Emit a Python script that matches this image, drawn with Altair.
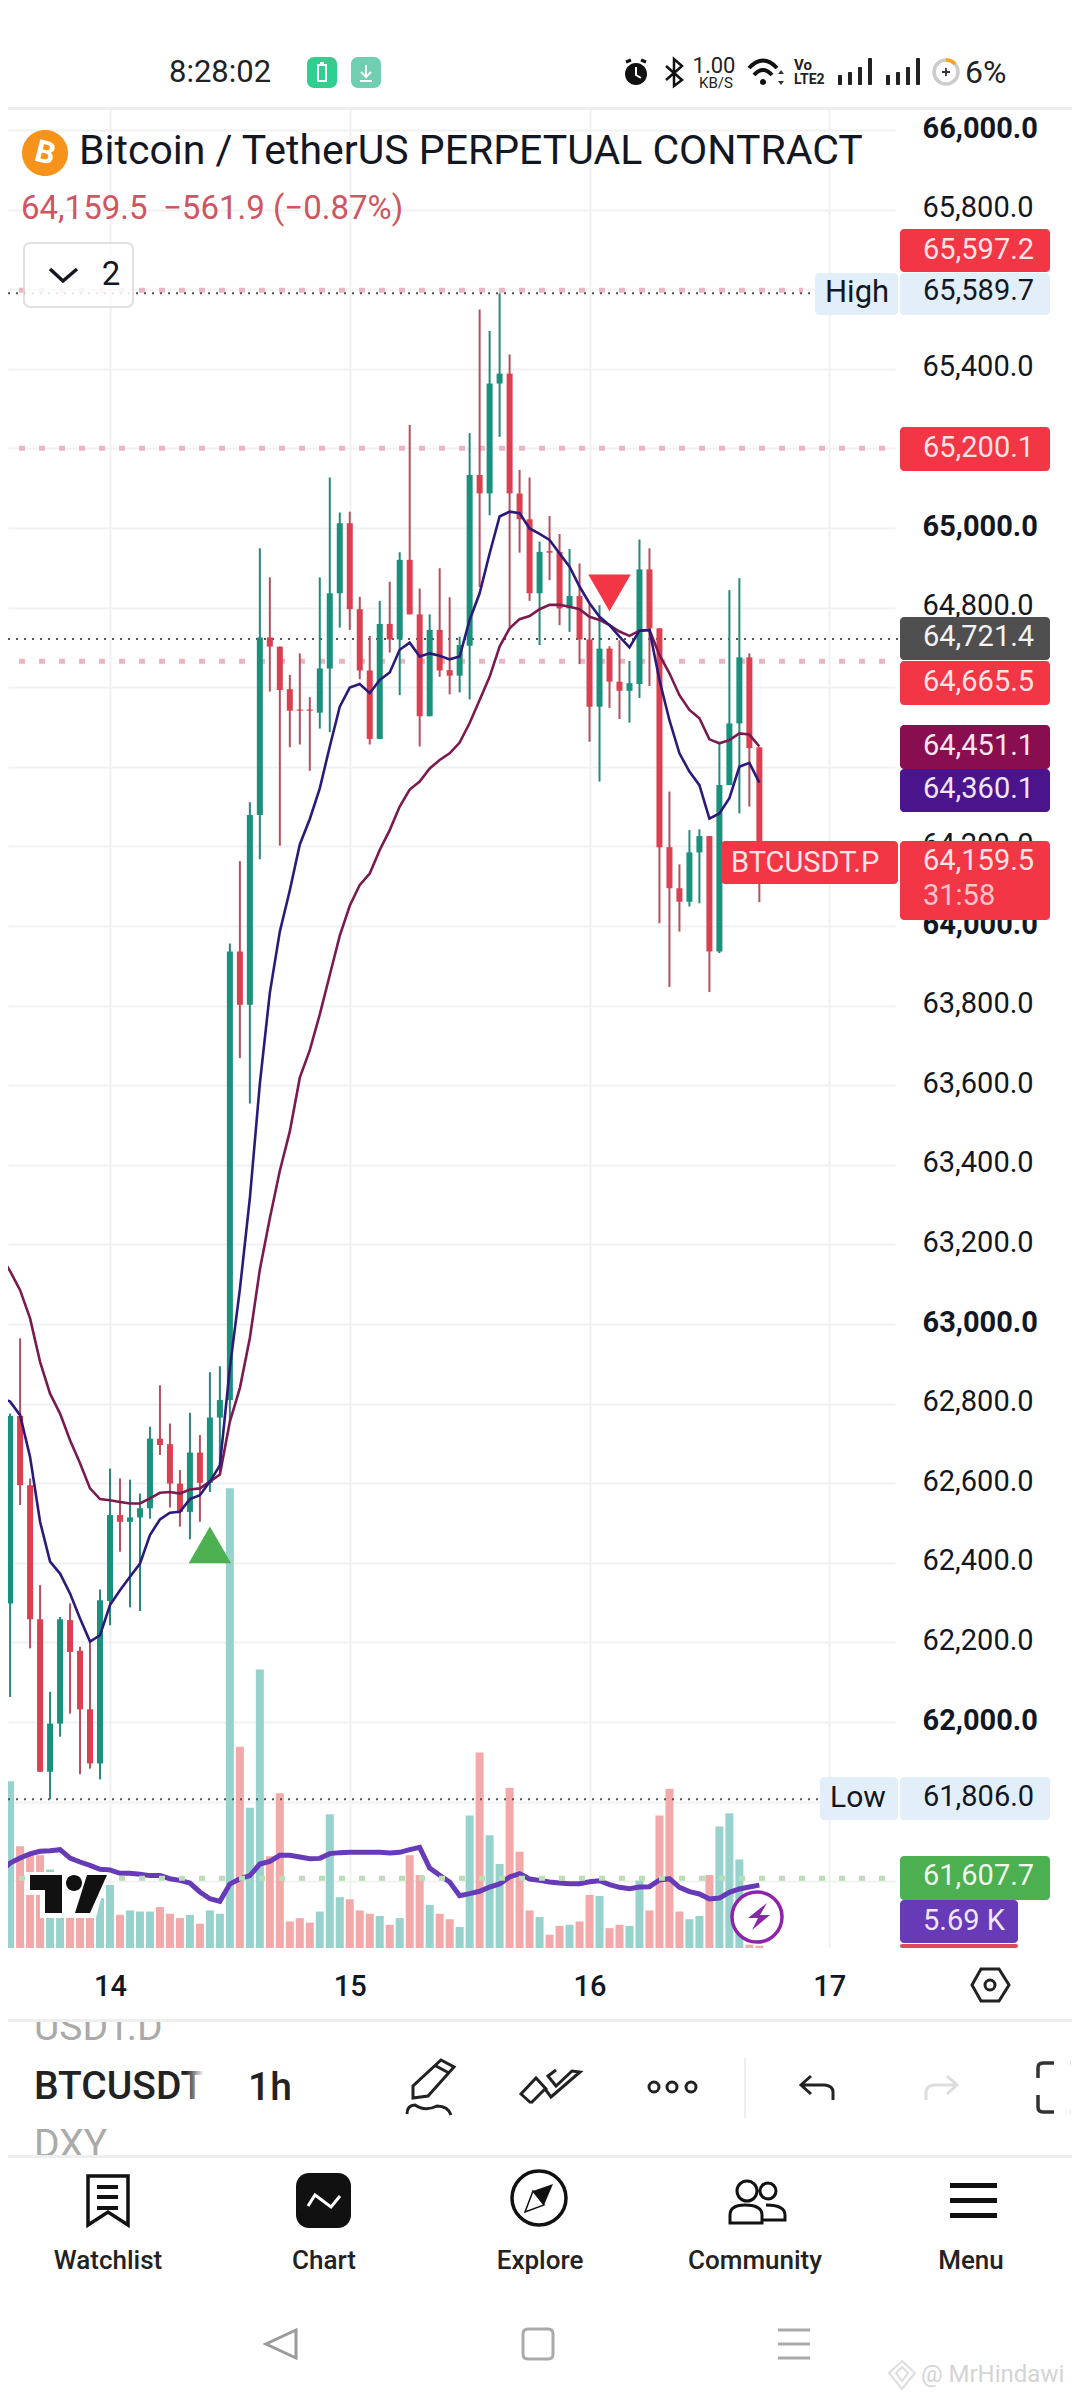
import altair as alt
import pandas as pd

# ------------------------------ data ------------------------------
HOURS = list(range(-11, 66))   # hours after 14th 00:00
OPEN = [62598,62298,62769,62595,62258,61875,61996,62256,62179,62032,61896,
        62304,62520,62503,62514,62537,62712,62698,62599,62528,62677,62601,62765,
        62809,63936,63802,64279,64725,64702,64595,64544,64544,64536,64647,64836,
        65012,64796,64642,64470,64759,64720,64920,64783,64527,64744,64643,64629,
        64704,65133,65087,65363,65388,65087,65022,64836,64942,64940,64798,64829,
        64720,64551,64697,64614,64591,64608,64896,64748,64198,64095,64061,64185,
        64226,63936,64354,64509,64675,64449]
HIGH = [62750,62775,62964,62612,62344,62076,62264,62298,62189,62202,62333,
        62637,62612,62609,62574,62742,62846,62750,62633,62777,62721,62879,62894,
        63956,64163,64311,64949,64876,64702,64631,64685,64575,64876,65127,65039,
        65041,64827,64729,64817,64865,64939,65259,64848,64783,64899,64826,64727,
        65238,65549,65495,65589.7,65436,65146,65127,64966,65030,64985,64947,64911,
        64810,64806,64703,64718,64666,64971,64949,64748,64338,64155,64241,64243,
        64226,64457,64844,64874,64685,64449]
LOW = [62143,62063,62545,62185,61875,61806,61963,62021,61869,61883,61856,
       62243,62428,62288,62279,62511,62671,62539,62491,62459,62503,62578,62625,
       62754,63668,63554,64168,64589,64202,64449,64456,64390,64496,64487,64750,
       64744,64620,64456,64470,64687,64580,64783,64451,64527,64626,64582,64587,
       64569,64852,65032,65229,64752,64938,64817,64706,64869,64756,64739,64658,
       64463,64363,64548,64520,64511,64573,64603,64007,63847,63986,64049,64057,
       63834,63932,64354,64283,64300,64060]
CLOSE = [62298,62769,62595,62258,61875,61996,62258,62176,62032,61896,62306,
         62520,62503,62514,62537,62712,62696,62599,62528,62677,62601,62765,62809,
         63936,63802,64279,64725,64702,64593,64541,64541,64541,64647,64836,65012,
         64796,64642,64470,64759,64720,64920,64783,64527,64744,64642,64629,64706,
         65133,65087,65363,65388,65087,65022,64836,64940,64938,64798,64829,64720,
         64551,64697,64614,64591,64610,64896,64748,64198,64095,64061,64185,64226,
         63936,64354,64509,64675,64447,64159.5]
EMA_FAST = [62817,62805,62771,62666,62503,62403,62373,62323,62260,62202,62218,
            62294,62331,62365,62398,62470,62509,62526,62528,62560,62570,62604,62645,
            62890,63087,63316,63604,63832,63986,64090,64205,64269,64346,64451,64551,
            64599,64608,64585,64618,64637,64694,64712,64677,64685,64679,64670,64677,
            64769,64836,64936,65029,65041,65037,64999,64985,64970,64936,64903,64853,
            64811,64777,64756,64727,64700,64742,64744,64618,64517,64434,64388,64354,
            64270,64283,64321,64400,64410,64360.1]
EMA_SLOW = [63173,63133,63085,63014,62905,62825,62775,62708,62650,62587,62560,
            62557,62553,62549,62549,62562,62576,62578,62574,62584,62587,62604,62622,
            62755,62839,62965,63137,63266,63385,63484,63619,63688,63778,63877,63976,
            64051,64103,64132,64191,64241,64300,64343,64363,64396,64417,64434,64461,
            64510,64568,64626,64702,64748,64771,64779,64796,64807,64807,64802,64796,
            64777,64769,64756,64740,64729,64742,64744,64681,64635,64580,64543,64522,
            64469,64459,64467,64484,64481,64451.1]
VOLUME = [18.1,15.1,9.2,8.4,8.4,7.1,5.0,4.5,4.5,4.5,4.5,
          5.7,3.0,3.4,3.3,3.3,3.7,3.1,2.7,3.0,2.2,3.4,3.1,
          41.6,18.2,12.7,25.2,8.3,14.0,2.4,2.7,2.3,3.3,12.1,4.6,
          4.4,3.4,3.1,2.9,2.1,2.7,8.4,6.6,3.9,3.1,2.6,1.9,
          12.0,17.7,10.2,7.6,14.5,8.7,3.4,2.8,1.2,2.0,2.1,2.4,
          4.8,4.7,1.8,2.1,2.0,6.1,3.4,12.0,14.4,3.3,2.6,2.9,
          6.6,11.0,12.2,8.0,0.3,0.2]
VOL_MA = [6.88,7.69,8.14,8.51,8.75,8.81,8.90,8.14,7.78,7.48,7.12,
          7.06,6.76,6.76,6.67,6.55,6.55,6.27,6.12,5.88,5.07,4.46,4.22,
          5.79,6.27,6.55,7.60,7.84,8.39,8.39,8.24,8.08,8.11,8.54,8.63,
          8.66,8.66,8.66,8.66,8.60,8.66,8.90,9.11,7.24,6.58,5.97,4.74,
          4.92,5.13,5.52,5.79,6.43,6.73,6.24,6.12,5.97,5.88,5.82,5.82,
          6.00,6.09,5.73,5.49,5.37,5.52,5.55,6.15,6.27,5.49,5.10,4.89,
          4.43,4.52,5.04,5.34,5.52,5.69]
PRICE_TICKS = [61600,61800,62000,62200,62400,62600,62800,63000,63200,63400,63600,63800,
               64000,64200,64400,64600,64800,65000,65200,65400,65600,65800,66000]
DAY_TICKS = [0, 24, 48, 72]
ALERT_PRICES = [65597.2, 65200.1, 64665.5]
GREEN_PRICE = [61607.7]
HIGH_PRICE = 65589.7
LOW_PRICE = 61806.0
PREV_CLOSE = 64721.4
SIGNAL_UP = {"h": [10], "p": [62445]}
SIGNAL_DOWN = {"h": [50], "p": [64837]}

# ------------------------------ scales ------------------------------
X_DOM = [(8 - 110) / 9.99, (895 - 110) / 9.99]
Y_DOM = [61432.2, 66055.3]
V_DOM = [0, 166.5]
FONT = "Roboto"
RED, GREEN = "#dc3f4f", "#1a917c"
RED_W, GREEN_W = "#b5505e", "#25897b"
BLANK = alt.Data(values=[{}])

df = pd.DataFrame(dict(h=HOURS, o=OPEN, hi=HIGH, lo=LOW, c=CLOSE, fast=EMA_FAST,
                       slow=EMA_SLOW, vol=VOLUME, vma=VOL_MA))
df["dir"] = ["down" if c < o else "up" for o, c in zip(OPEN, CLOSE)]

xs = alt.Scale(domain=X_DOM, nice=False, zero=False, padding=0)
ys = alt.Scale(domain=Y_DOM, nice=False, zero=False)
vs = alt.Scale(domain=V_DOM, nice=False, zero=False)
X = alt.X("h:Q", scale=xs, axis=None)

def Yp(f):
    return alt.Y(f, scale=ys, axis=None, stack=None)

x_axis = alt.Axis(values=DAY_TICKS, labelExpr="datum.value / 24 + 14", orient="bottom", title=None,
                  grid=True, gridColor="#f1f1f1", gridWidth=2, domain=False, ticks=False,
                  labelFont=FONT, labelFontSize=29, labelFontWeight=500, labelColor="#131722",
                  labelPadding=24, labelFlush=False, labelOverlap=False)
y_axis = alt.Axis(values=PRICE_TICKS, orient="right", title=None, format=",.1f",
                  grid=True, gridColor="#f1f1f1", gridWidth=2, domain=False, ticks=False,
                  labelFont=FONT, labelFontSize=29, labelColor="#131722", labelAlign="left",
                  labelPadding=27, labelOffset=-2, labelOverlap=False, labelFlush=False,
                  labelFontWeight={"condition": {"test": "datum.value % 1000 === 0", "value": "bold"},
                                   "value": "normal"})

base = alt.Chart(df)
dir_fill = alt.Color("dir:N", scale=alt.Scale(domain=["up", "down"], range=[GREEN, RED]), legend=None)
dir_wick = alt.Color("dir:N", scale=alt.Scale(domain=["up", "down"], range=[GREEN_W, RED_W]), legend=None)
dir_vol = alt.Color("dir:N", scale=alt.Scale(domain=["up", "down"], range=["#98d2cc", "#f2a9a9"]), legend=None)

grid_layer = base.mark_rule(opacity=0).encode(
    x=alt.X("h:Q", scale=xs, axis=x_axis), y=alt.Y("c:Q", scale=ys, axis=y_axis))
vol_bars = base.mark_bar(size=8, orient="vertical", clip=True).encode(
    x=X, y=alt.Y("vol:Q", scale=vs, axis=None, stack=None), color=dir_vol)
vol_line = base.mark_line(color="#673ab7", strokeWidth=5, clip=True).encode(
    x=X, y=alt.Y("vma:Q", scale=vs, axis=None))

def hline(prices, end_page, color, dash, width, offset=0):
    t = pd.DataFrame({"p": prices})
    return alt.Chart(t).mark_rule(color=color, strokeDash=dash, strokeWidth=width,
                                  strokeDashOffset=offset).encode(
        y=Yp("p:Q"), x=alt.value(0), x2=alt.value(end_page - 8))

alerts = [
    hline([ALERT_PRICES[0]], 803, "#e9b6c1", [6, 14], 5, 9),
    hline(ALERT_PRICES[1:], 886, "#e9b6c1", [6, 14], 5, 9),
    hline(GREEN_PRICE, 886, "#b9ddb4", [6, 14], 5, 9),
    hline([HIGH_PRICE], 815, "#555555", [2, 6], 2),
    hline([LOW_PRICE], 820, "#555555", [2, 6], 2),
    hline([PREV_CLOSE], 898, "#555555", [2, 6], 2),
]
wicks = base.mark_rule(strokeWidth=2, clip=True).encode(x=X, y=Yp("hi:Q"), y2="lo:Q", color=dir_wick)
bodies = base.mark_bar(size=6, orient="vertical", clip=True).encode(
    x=X, y=Yp("o:Q"), y2="c:Q", color=dir_fill)
fast = base.mark_line(color="#2c1a7a", strokeWidth=2.6, clip=True).encode(x=X, y=Yp("fast:Q"))
slow = base.mark_line(color="#7b1a4f", strokeWidth=2.6, clip=True).encode(x=X, y=Yp("slow:Q"))
sig_up = alt.Chart(pd.DataFrame(SIGNAL_UP)).mark_point(
    shape="triangle-up", size=1800, filled=True, color="#4caf50", opacity=1).encode(x=X, y=Yp("p:Q"))
sig_dn = alt.Chart(pd.DataFrame(SIGNAL_DOWN)).mark_point(
    shape="triangle-down", size=1800, filled=True, color="#f23645", opacity=1).encode(x=X, y=Yp("p:Q"))

# ------------------------------ interface furniture, in page pixels ------------------------------
def text(s, x, y, size=29, color="#131722", weight="normal", align="left", angle=0, opacity=1):
    return alt.Chart(BLANK).mark_text(text=s, font=FONT, fontSize=size, color=color, fontWeight=weight,
                                      align=align, baseline="middle", angle=angle, opacity=opacity).encode(
        x=alt.value(x - 8), y=alt.value(y - 108))

def path(d, fill=None, stroke=None, sw=3):
    kw = dict(shape=d, size=4, opacity=1)
    if fill:
        kw.update(filled=True, fill=fill)
    else:
        kw.update(filled=False)
    if stroke:
        kw.update(stroke=stroke, strokeWidth=sw)
    return alt.Chart(BLANK).mark_point(**kw).encode(x=alt.value(-8), y=alt.value(-108))

def circ(cx, cy, r):
    return f"M{cx-r},{cy} a{r},{r} 0 1,0 {2*r},0 a{r},{r} 0 1,0 {-2*r},0 Z"

def rects(items, radius=5):
    t = pd.DataFrame(items, columns=["a", "b", "c", "d", "fill"])
    t["a"] -= 8; t["c"] -= 8; t["b"] -= 108; t["d"] -= 108
    return alt.Chart(t).mark_rect(cornerRadius=radius).encode(
        x=alt.X("a:Q", scale=None, axis=None), x2="c:Q",
        y=alt.Y("b:Q", scale=None, axis=None), y2="d:Q",
        color=alt.Color("fill:N", scale=None, legend=None))

def fade(a, b, c, d, horizontal=True):
    g = alt.LinearGradient(gradient="linear",
                           stops=[alt.GradientStop(color="rgba(255,255,255,0)", offset=0),
                                  alt.GradientStop(color="#ffffff", offset=1)],
                           x1=0, x2=1 if horizontal else 0, y1=0, y2=0 if horizontal else 1)
    return alt.Chart(BLANK).mark_rect(fill=g).encode(
        x=alt.value(a - 8), x2=alt.value(c - 8), y=alt.value(b - 108), y2=alt.value(d - 108))

RED_BOX, WHITE = "#f23645", "#ffffff"
LIGHT = "#e3eefb"

chrome = [
    # TradingView mark and lightning badge over the volume pane
    path("M25,1872 L108,1872 L96,1918 L40,1918 L40,1895 L25,1895 Z", fill=WHITE),
    path("M30,1875 L62,1875 L62,1913 L45,1913 L45,1890 L30,1890 Z", fill="#111111"),
    path(circ(74, 1883, 8), fill="#111111"),
    path("M87,1875 L107,1875 L90,1913 L75,1913 Z", fill="#111111"),
    alt.Chart(BLANK).mark_point(shape=circ(757, 1917, 25), size=4, filled=True, fill=WHITE,
                                stroke="#8e24aa", strokeWidth=3.5, opacity=1).encode(
        x=alt.value(-8), y=alt.value(-108)),
    path("M767,1903 L748,1918 L758,1918 L752,1930 L770,1915 L760,1915 Z", fill="#8e24aa"),
    # price label plates
    rects([
        [900, 229, 1050, 272, RED_BOX],
        [815, 273, 898, 315, LIGHT],
        [900, 273, 1050, 315, LIGHT],
        [900, 427, 1050, 471, RED_BOX],
        [900, 617, 1050, 660, "#4f4f4f"],
        [900, 661, 1050, 705, RED_BOX],
        [900, 725, 1050, 769, "#880e4f"],
        [900, 769, 1050, 812, "#4a148c"],
        [721, 841, 898, 884, RED_BOX],
        [900, 841, 1050, 920, RED_BOX],
        [820, 1777, 898, 1820, LIGHT],
        [900, 1777, 1050, 1820, LIGHT],
        [900, 1856, 1050, 1900, "#4caf50"],
        [900, 1944, 1018, 1948, "#e0475a"],
        [900, 1900, 1018, 1943, "#673ab7"],
    ], radius=4),
    text("65,597.2", 923, 250, color="#fde3e5"),
    text("High", 825, 293, size=31), text("65,589.7", 923, 291),
    text("65,200.1", 923, 448, color="#fde3e5"),
    text("64,721.4", 923, 637, color="#f3f3f3"),
    text("64,665.5", 923, 682, color="#fde3e5"),
    text("64,451.1", 923, 746, color="#f6e6ee"),
    text("64,360.1", 923, 789, color="#eee6f6"),
    text("BTCUSDT.P", 731, 863, color="#fde3e5"),
    text("64,159.5", 923, 861, color="#fde3e5"),
    text("31:58", 923, 896, color="#fbc4c8"),
    text("Low", 830, 1798, size=30), text("61,806.0", 923, 1797),
    text("61,607.7", 923, 1876, color="#f0f8ee"),
    text("5.69 K", 923, 1921, color="#efe8fa"),
    # header
    rects([[0, 107, 1080, 110, "#eeeeee"]], radius=0),
    text("8:28:02", 169, 73, size=31, color="#222222"),
    rects([[307, 57, 337, 88, "#2fcf8f"], [351, 57, 381, 88, "#6fcfb0"]], radius=7),
    path("M318,65 H326 V81 H318 Z M320,63 H324", stroke=WHITE, sw=2),
    path("M366,65 V76 M361,72 L366,77 L371,72 M360,81 H372", stroke=WHITE, sw=2),
    path(circ(636, 74, 11), fill="#111111"),
    path("M626,62 L631,60 M646,62 L641,60", stroke="#111111", sw=3),
    path("M636,67 V75 L641,78", stroke=WHITE, sw=2),
    path("M666,66 L682,80 L674,86 L674,59 L682,66 L666,80", stroke="#111111", sw=2.5),
    text("1.00", 714, 66, size=22, align="center", color="#222222"),
    text("KB/S", 716, 83, size=15, align="center", color="#222222"),
    path("M749,68 Q763,53 777,68 M754,75 Q763,65 772,75", stroke="#111111", sw=4),
    path(circ(763, 82, 3), fill="#111111"),
    path("M778,74 L781,70 L784,74 Z M778,81 L781,85 L784,81 Z", fill="#333333"),
    text("Vo", 794, 65, size=15, weight="bold", color="#222222"),
    text("LTE2", 794, 80, size=14, weight="bold", color="#222222"),
    rects([[838, 75, 842, 85, "#222222"], [848, 72, 852, 85, "#222222"],
           [858, 67, 862, 85, "#222222"], [868, 58, 872, 85, "#222222"],
           [886, 75, 890, 85, "#222222"], [896, 72, 900, 85, "#222222"],
           [906, 67, 910, 85, "#222222"], [916, 58, 920, 85, "#222222"]], radius=1),
    path(circ(946, 72, 12), stroke="#cccccc", sw=3.5),
    path("M946,60 A12,12 0 0,1 955,64", stroke="#f5a623", sw=3.5),
    path("M942,72 H950 M946,68 V76", stroke="#333333", sw=1.8),
    text("6%", 965, 73, size=32, color="#222222"),
    # symbol line
    path(circ(45, 153, 23), fill="#f7931a"),
    text("B", 45, 154, size=31, color=WHITE, weight="bold", align="center", angle=14),
    text("Bitcoin / TetherUS PERPETUAL CONTRACT", 79, 152, size=41, color="#131722"),
    text("64,159.5", 21, 209, size=33, color="#cf5562"),
    text("\u2212561.9", 163, 209, size=33, color="#cf5562"),
    text("(\u22120.87%)", 273, 209, size=33, color="#cf5562"),
    alt.Chart(BLANK).mark_rect(fill=WHITE, opacity=0.85, stroke="#dcdcdc", strokeWidth=2, cornerRadius=6).encode(
        x=alt.value(24 - 8), x2=alt.value(133 - 8), y=alt.value(243 - 108), y2=alt.value(307 - 108)),
    path("M50,269 L63,281 L77,269", stroke="#131722", sw=3.5),
    text("2", 111, 275, size=33, align="center"),
    # axis corner
    path("M981,1969 L999,1969 L1009,1985 L999,2001 L981,2001 L972,1985 Z", stroke="#222222", sw=3),
    path(circ(990, 1985, 5), stroke="#222222", sw=3),
    # tool bar
    text("USDT.D", 34, 2028, size=39, color="#aaaaaa"),
    text("DXY", 34, 2145, size=39, color="#aaaaaa"),
    rects([[0, 2004, 700, 2021, WHITE], [0, 2157, 700, 2172, WHITE]], radius=0),
    rects([[0, 2019, 1080, 2022, "#eeeeee"], [0, 2155, 1080, 2158, "#eeeeee"]], radius=0),
    text("BTCUSDT", 34, 2087, size=39, weight=500, color="#222222"),
    fade(186, 2066, 204, 2108),
    rects([[204, 2066, 240, 2108, WHITE]], radius=0),
    text("1h", 248, 2088, size=39, weight=500, color="#222222"),
    path("M441,2060 L454,2067 L428,2096 L413,2098 L413,2086 Z M436,2066 L449,2073", stroke="#222222", sw=3),
    path("M407,2114 Q407,2105 415,2105 Q425,2112 437,2106 Q448,2106 451,2115", stroke="#222222", sw=3),
    path("M531,2103 L521,2094 L536,2078 L547,2090 M531,2103 L545,2089 L551,2097 L580,2072 L572,2071 L556,2086 L548,2076 L556,2070",
         stroke="#222222", sw=3),
    path(circ(654, 2087, 5) + circ(672, 2087, 5) + circ(691, 2087, 5), stroke="#222222", sw=3),
    rects([[744, 2058, 746, 2118, "#eeeeee"]], radius=0),
    path("M833,2100 L833,2092 Q833,2086 825,2085 L803,2085 M811,2076 L801,2085 L811,2094", stroke="#222222", sw=3),
    path("M926,2100 L926,2092 Q926,2086 934,2085 L955,2085 M947,2076 L957,2085 L947,2094", stroke="#dddddd", sw=3),
    path("M1054,2063 L1043,2063 Q1038,2063 1038,2068 L1038,2078 M1038,2095 L1038,2107 Q1038,2112 1043,2112 L1054,2112",
         stroke="#333333", sw=3.5),
    path("M1070,2063 L1071,2063 M1070,2112 L1071,2112", stroke="#dddddd", sw=3.5),
    # bottom navigation
    path("M88,2176 L128,2176 L128,2225 L108,2212 L88,2225 Z", stroke="#111111", sw=3.5),
    path("M97,2187 H118 M97,2197 H118 M97,2208 H118", stroke="#111111", sw=4),
    rects([[296, 2173, 351, 2228, "#111111"]], radius=13),
    path("M308,2206 L315,2195 L331,2207 L340,2196", stroke=WHITE, sw=3),
    path(circ(539, 2198, 27), stroke="#111111", sw=3.5),
    path("M553,2184 L544,2205 L525,2212 L533,2191 Z", fill="#111111"),
    path("M533,2191 L544,2205 L525,2212 Z", fill=WHITE, stroke="#111111", sw=1.5),
    path(circ(747, 2191, 10) + circ(768, 2191, 8), stroke="#111111", sw=3),
    path("M730,2223 L730,2215 Q730,2205 745,2205 Q762,2205 762,2215 L762,2223 Z", stroke="#111111", sw=3),
    path("M766,2205 Q785,2205 785,2215 L785,2220 L763,2220", stroke="#111111", sw=3),
    rects([[950, 2183, 997, 2188, "#111111"], [950, 2198, 997, 2203, "#111111"], [950, 2213, 997, 2218, "#111111"]], radius=0),
    text("Watchlist", 108, 2261, size=26, weight=500, align="center", color="#222222"),
    text("Chart", 324, 2261, size=26, weight=500, align="center", color="#222222"),
    text("Explore", 540, 2261, size=26, weight=500, align="center", color="#222222"),
    text("Community", 755, 2261, size=26, weight=500, align="center", color="#222222"),
    text("Menu", 971, 2261, size=26, weight=500, align="center", color="#222222"),
    # system navigation and watermark
    path("M296,2330 L266,2344 L296,2358 Z", stroke="#9a9a9a", sw=3),
    path("M528,2329 H548 Q553,2329 553,2334 V2354 Q553,2359 548,2359 H528 Q523,2359 523,2354 V2334 Q523,2329 528,2329 Z",
         stroke="#aaaaaa", sw=3),
    path("M778,2330 H810 M778,2344 H810 M778,2358 H810", stroke="#aaaaaa", sw=3),
    path("M902,2361 L915,2373 L902,2389 L889,2373 Z M896,2373 L902,2367 L908,2373 L902,2381 Z", stroke="#dddddd", sw=2),
    text("@ MrHindawi", 921, 2375, size=24, color="#d4d4d4"),
]

chart = alt.layer(
    grid_layer, vol_bars, vol_line, *alerts, wicks, bodies, slow, fast, sig_up, sig_dn, *chrome
).resolve_scale(y="independent", color="independent").resolve_axis(x="independent", y="independent").properties(
    width=887, height=1840,
    autosize=alt.AutoSizeParams(type="none"),
    padding={"left": 0, "top": 100, "right": 177, "bottom": 444},
    background="#ffffff",
).configure_view(stroke=None)

chart.save("out.html", embed_options={"renderer": "svg", "actions": False})
